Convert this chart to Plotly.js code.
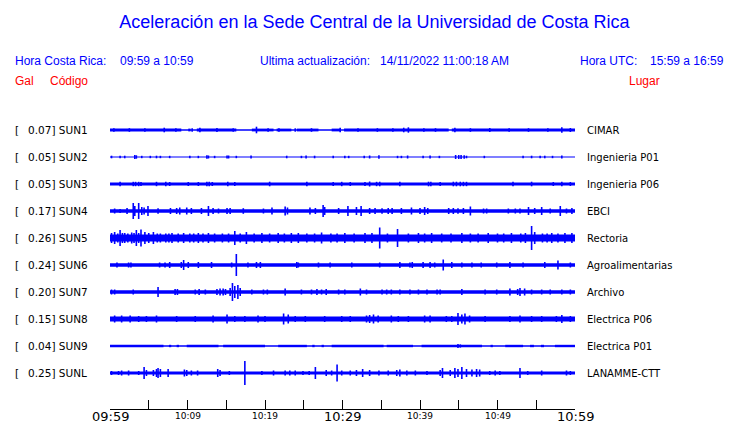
<!DOCTYPE html>
<html>
<head>
<meta charset="utf-8">
<script src="https://cdn.plot.ly/plotly-3.0.1.min.js"></script>
<style>html,body{margin:0;padding:0;background:#fff;}#chart{width:740px;height:423px;}</style>
</head>
<body>
<div id="chart"></div>
<script>
// ---------- data ----------
const stations = ['SUN1','SUN2','SUN3','SUN4','SUN5','SUN6','SUN7','SUN8','SUN9','SUNL'];
const galPeak  = ['0.07','0.05','0.05','0.17','0.26','0.24','0.20','0.15','0.04','0.25'];
const places   = ['CIMAR','Ingenieria P01','Ingenieria P06','EBCI','Rectoria','Agroalimentarias','Archivo','Electrica P06','Electrica P01','LANAMME-CTT'];
// continuous background level of each trace (half height of the band)
const baseLevel = [1.4, 0.6, 1.5, 1.8, 3.6, 1.7, 1.7, 2.5, 1.2, 1.4];

// quiet stretches where the band shrinks to a thin line: [from, to] minutes after 09:59
const sun1Quiet = [[9.2,10.1],[10.4,11.2],[16.3,18.3],[21.1,21.5],[23.4,24.1],[26.9,28.6],[29.8,30.2],[43.7,44.1]];
const sun9Quiet = [[6.9,7.6],[7.9,8.6],[8.9,9.9],[14.0,14.6],[20.0,21.7],[25.4,26.1],[26.4,27.3],[27.6,28.6],[35.3,35.7],[39.1,40.2],[48.0,49.1],[49.4,51.0],[53.3,54.2],[54.7,55.6],[56.0,57.4]];
const quietByStation = [sun1Quiet, [], [], [], [], [], [], [], sun9Quiet, []];

// bursts: [minutes after 09:59, half amplitude]
const sun1Bursts = [[0.5,1.8],[2.5,1.8],[4.5,1.8],[7.0,2.3],[8.5,1.8],[10.6,1.7],[11.6,2.3],[13.8,2.0],[15.9,1.7],[18.9,3.3],[20.4,1.7],[21.8,1.8],[23.9,1.7],[26.0,1.8],[29.7,2.3],[32.0,1.7],[34.5,1.8],[36.5,1.8],[37.9,2.3],[38.5,2.7],[40.5,1.8],[42.0,1.8],[44.5,2.3],[46.5,1.8],[49.0,2.0],[51.5,1.8],[54.0,1.8],[56.5,1.8],[58.3,2.7],[59.4,2.0]];
const sun2Bursts = [[0.2,1.3],[1.3,1.3],[1.9,1.3],[3.2,2.0],[3.4,1.7],[4.1,1.2],[5.2,1.2],[6.0,1.3],[6.5,1.2],[7.7,1.2],[10.3,1.2],[11.4,1.2],[12.5,1.7],[12.7,1.5],[13.5,1.2],[15.1,1.5],[15.3,1.5],[16.3,1.2],[18.2,1.5],[22.8,1.3],[24.7,1.2],[25.3,1.5],[26.4,1.3],[28.8,1.2],[30.3,1.2],[30.8,1.2],[32.8,1.3],[33.5,1.5],[34.7,1.7],[37.1,1.2],[37.6,1.2],[38.4,1.5],[40.4,1.2],[41.3,1.5],[42.5,1.2],[44.6,2.0],[45.0,2.0],[45.3,2.0],[45.7,1.7],[46.0,1.3],[48.3,1.2],[53.3,1.3],[54.4,1.3],[55.5,1.3],[56.1,1.3],[57.1,1.2],[58.3,1.5]];
const sun3Bursts = [[1.3,2.3],[3.0,2.2],[3.3,2.2],[3.7,2.2],[4.0,2.0],[6.0,2.2],[7.2,2.3],[7.7,2.0],[10.1,2.0],[11.4,2.0],[12.5,2.2],[12.8,2.2],[13.2,2.0],[15.2,2.2],[16.1,2.0],[20.6,2.3],[25.4,2.2],[28.8,2.0],[29.9,2.2],[31.0,2.0],[32.9,2.0],[33.5,2.5],[34.4,2.2],[34.8,2.3],[37.4,2.2],[41.1,2.3],[41.4,2.3],[42.6,2.0],[44.3,2.3],[44.7,2.3],[45.2,2.3],[45.6,2.2],[46.0,2.2],[52.0,2.2],[54.4,2.3],[57.2,2.0],[58.3,2.3],[59.4,2.0]];
const sun4Bursts = [[0.6,2.5],[1.3,2.0],[2.2,3.0],[3.0,8.0],[3.2,5.0],[3.7,8.0],[4.1,4.0],[4.4,3.5],[4.9,5.0],[6.2,2.8],[7.8,3.0],[8.6,3.0],[9.0,3.5],[9.9,3.5],[10.5,3.0],[11.8,3.0],[12.7,5.0],[13.3,3.0],[14.0,2.5],[15.1,3.0],[15.5,3.0],[17.2,2.8],[19.8,2.5],[20.9,3.5],[22.6,4.5],[22.9,3.5],[25.8,3.5],[26.5,3.0],[27.5,6.0],[27.7,4.0],[29.5,3.0],[30.7,5.0],[31.8,4.0],[32.4,5.0],[33.5,3.0],[34.2,3.0],[35.1,2.8],[35.9,3.0],[36.4,3.0],[37.6,3.0],[38.9,3.5],[40.0,3.0],[40.6,4.0],[41.0,3.0],[43.7,3.0],[44.3,3.0],[44.9,2.8],[45.6,3.0],[46.5,4.5],[48.2,2.5],[48.6,2.5],[51.4,2.5],[52.3,2.5],[52.9,2.5],[54.0,4.0],[54.8,3.0],[55.7,4.0],[56.8,2.5],[58.1,5.0],[58.9,2.5],[59.6,3.0]];
const sun5Bursts = [[0.2,5.0],[0.6,6.0],[1.0,4.5],[1.3,8.0],[1.6,5.0],[1.9,5.0],[2.3,4.5],[2.8,5.5],[3.1,5.0],[3.4,8.0],[3.7,5.0],[4.0,8.5],[4.5,6.0],[5.0,5.0],[5.6,6.0],[6.1,4.5],[6.5,4.5],[7.2,4.5],[7.6,4.5],[8.0,5.0],[8.8,4.5],[9.5,5.0],[10.3,4.5],[10.8,4.5],[11.4,5.0],[12.0,4.5],[12.7,5.0],[13.5,4.5],[14.5,4.5],[15.3,4.5],[16.1,7.0],[16.8,4.5],[17.6,6.0],[18.6,4.5],[19.6,5.0],[20.6,4.5],[21.7,5.0],[22.5,4.5],[23.4,5.0],[24.3,5.0],[25.4,4.5],[26.4,4.5],[27.3,5.5],[28.5,4.5],[29.3,4.5],[30.3,5.0],[31.5,4.5],[32.9,5.0],[33.8,5.0],[34.8,10.5],[35.8,4.5],[37.1,9.0],[38.5,4.5],[39.8,5.0],[40.6,4.5],[41.5,5.0],[42.8,4.5],[44.0,4.5],[45.4,5.0],[46.5,4.5],[47.5,4.5],[48.8,5.0],[50.0,4.5],[50.8,4.5],[51.8,5.0],[53.0,4.5],[53.6,5.0],[54.4,12.0],[54.8,6.0],[55.8,4.5],[56.4,4.5],[57.0,5.0],[57.8,4.5],[58.7,5.0],[59.6,5.0]];
const sun6Bursts = [[0.9,2.5],[2.4,2.5],[2.7,2.5],[6.4,2.5],[7.1,2.5],[7.7,3.0],[9.2,3.0],[9.5,5.0],[10.1,3.0],[11.4,3.0],[13.1,3.0],[15.7,2.5],[16.3,11.0],[17.8,2.5],[18.9,3.0],[19.4,3.0],[24.1,3.0],[24.3,2.5],[26.9,2.5],[28.4,2.5],[31.2,2.5],[34.8,2.5],[37.4,3.0],[38.7,2.5],[39.0,3.0],[40.4,3.0],[41.3,3.0],[41.9,2.5],[43.0,5.5],[44.1,3.0],[45.4,2.5],[46.7,2.5],[47.9,2.5],[49.9,2.5],[51.6,3.0],[53.3,2.5],[56.1,3.0],[57.8,4.5],[59.4,2.5]];
const sun7Bursts = [[0.2,2.5],[0.6,2.5],[3.0,2.5],[6.2,5.0],[8.4,3.0],[8.7,3.0],[11.0,2.5],[11.5,3.0],[12.3,2.5],[13.8,3.0],[14.2,3.5],[14.6,3.5],[14.9,3.0],[15.5,4.0],[15.8,9.0],[16.1,6.0],[16.5,7.0],[16.8,4.0],[18.3,2.5],[19.8,2.5],[20.3,2.5],[22.6,3.5],[24.7,2.5],[26.0,2.5],[26.7,3.0],[27.3,2.5],[27.9,3.0],[29.5,2.5],[30.3,2.5],[32.3,3.5],[33.1,2.5],[35.1,2.5],[35.7,2.5],[36.3,2.5],[37.4,2.5],[38.7,2.5],[39.8,2.5],[40.9,2.5],[42.2,2.5],[42.6,2.5],[45.4,3.0],[48.4,2.5],[49.9,2.5],[51.6,3.5],[52.6,3.0],[52.9,4.0],[53.5,3.5],[54.4,2.5],[55.7,2.5],[56.8,2.5],[58.3,2.5],[59.4,2.5]];
const sun8Bursts = [[0.6,3.5],[1.5,3.5],[2.6,3.5],[3.7,3.0],[4.7,3.0],[6.0,3.5],[8.6,3.0],[11.0,3.0],[13.3,3.5],[15.1,4.5],[16.1,3.0],[17.4,3.0],[19.1,3.5],[20.0,3.0],[22.4,5.5],[23.0,4.5],[23.9,3.0],[25.2,3.0],[27.7,3.0],[29.9,3.0],[31.0,3.0],[33.1,3.5],[33.5,4.0],[34.0,4.5],[34.6,3.5],[36.3,3.5],[37.2,3.0],[38.5,3.0],[40.6,3.5],[41.3,3.5],[43.4,3.0],[44.1,3.0],[44.9,6.0],[45.4,4.5],[45.8,5.5],[46.4,3.5],[48.4,3.0],[51.6,3.0],[52.9,3.5],[54.4,3.0],[55.7,3.0],[57.6,3.0],[58.3,4.0],[59.4,3.0]];
const sun9Bursts = [[44.9,2.0],[45.2,1.6]];
const sunLBursts = [[0.2,2.0],[1.1,2.0],[1.5,2.5],[2.4,2.5],[3.7,2.0],[4.4,6.0],[4.7,3.0],[5.6,3.0],[6.0,4.0],[6.2,5.0],[6.5,4.0],[7.5,4.0],[9.6,3.5],[9.9,3.0],[10.5,2.5],[11.3,2.5],[13.9,4.0],[14.2,3.0],[15.4,2.0],[17.4,12.0],[19.6,2.0],[21.1,2.5],[22.6,2.5],[23.2,2.5],[23.9,2.5],[24.9,2.0],[25.7,2.0],[26.5,6.0],[27.9,3.0],[28.6,2.5],[29.3,8.5],[29.9,2.5],[31.0,2.5],[31.8,3.0],[32.6,4.0],[33.5,3.0],[34.7,2.5],[35.9,2.5],[37.0,3.0],[37.4,3.5],[38.3,2.5],[39.4,2.5],[40.9,2.0],[42.6,3.0],[42.9,5.0],[43.9,3.0],[44.5,5.0],[44.9,4.0],[45.4,6.0],[46.0,4.0],[46.7,3.5],[47.3,4.0],[47.7,3.5],[49.0,2.0],[49.7,2.5],[50.3,2.0],[52.9,5.0],[53.9,2.0],[55.7,2.5],[58.9,2.5],[59.4,2.0]];
const burstsByStation = [sun1Bursts, sun2Bursts, sun3Bursts, sun4Bursts, sun5Bursts, sun6Bursts, sun7Bursts, sun8Bursts, sun9Bursts, sunLBursts];

const tickMinutes = [0,5,10,15,20,25,30,35,40,45,50,55,60];
const tickLabels  = ['09:59','','10:09','','10:19','','10:29','','10:39','','10:49','','10:59'];
const bigLabels   = ['09:59','10:29','10:59'];

// ---------- layout geometry (pixels) ----------
const W = 740, H = 423;
const plotL = 110, plotR = 575, plotT = 110, plotB = 409;
const firstRow = 130, rowGap = 27;
const BLUE = '#0000ff', RED = '#ff0000';
const PAD = 2; // annotation inner padding
const px2x = px => (px - plotL) / (plotR - plotL);
const py2y = py => (plotB - py) / (plotB - plotT);
const rowCenter = i => plotB - (firstRow + rowGap * i); // y units (1 unit = 1px)

const traces = [];
stations.forEach((s, i) => {
  const c = rowCenter(i);
  const quiet = quietByStation[i];
  if (quiet.length) {
    traces.push({type: 'scatter', mode: 'lines', x: [0, 60], y: [c, c],
      line: {color: BLUE, width: 1.4}, hoverinfo: 'skip', showlegend: false});
    const xs = [], ys = [];
    let start = 0;
    quiet.forEach(([a, b]) => { xs.push(start, a, null); ys.push(c, c, null); start = b; });
    xs.push(start, 60); ys.push(c, c);
    traces.push({type: 'scatter', mode: 'lines', x: xs, y: ys, connectgaps: false,
      line: {color: BLUE, width: baseLevel[i] * 2}, hoverinfo: 'skip', showlegend: false});
  } else {
    traces.push({type: 'scatter', mode: 'lines', x: [0, 60], y: [c, c],
      line: {color: BLUE, width: baseLevel[i] * 2}, hoverinfo: 'skip', showlegend: false});
  }
  const xs = [], ys = [];
  burstsByStation[i].forEach(([t, a]) => { xs.push(t, t, null); ys.push(c - a, c + a, null); });
  traces.push({type: 'scatter', mode: 'lines', x: xs, y: ys, connectgaps: false,
    line: {color: BLUE, width: 1.6}, hoverinfo: 'skip', showlegend: false});
});

const ann = [];
const hdr = (text, px, py, color, anchor) => ann.push({
  text, xref: 'paper', yref: 'paper',
  x: px2x(anchor === 'right' ? px + PAD : px - PAD), y: py2y(py),
  xanchor: anchor || 'left', yanchor: 'middle', showarrow: false,
  font: {family: 'Liberation Sans, Arial, sans-serif', size: 12, color}
});
hdr('Hora Costa Rica:', 15, 61, BLUE);
hdr('09:59 a 10:59', 120, 61, BLUE);
hdr('Ultima actualización:', 260, 61, BLUE);
hdr('14/11/2022 11:00:18 AM', 380, 61, BLUE);
hdr('Hora UTC:', 580, 61, BLUE);
hdr('15:59 a 16:59', 724, 61, BLUE, 'right');
hdr('Gal', 15, 81, RED);
hdr('Código', 50, 81, RED);
hdr('Lugar', 629, 81, RED);

const lbl = (text, px, py, size) => ann.push({text, xref: 'paper', yref: 'paper', x: px2x(px - PAD), y: py2y(py),
  xanchor: 'left', yanchor: 'middle', showarrow: false, font: {family: 'DejaVu Sans', size, color: '#000'}});
stations.forEach((s, i) => {
  const py = firstRow + rowGap * i;
  lbl('[', 15, py, 10.5);
  lbl(galPeak[i] + '] ' + s, 28, py, 10.5);
  lbl(places[i], 587, py, 10);
});

tickMinutes.forEach((m, k) => {
  const lab = tickLabels[k];
  if (!lab) return;
  const big = bigLabels.includes(lab);
  ann.push({text: lab, xref: 'x', yref: 'paper', x: m, y: py2y(416), xanchor: 'center', yanchor: 'middle',
    showarrow: false, font: {family: 'DejaVu Sans', size: big ? 13 : 9, color: '#000'}});
});

const layout = {
  width: W, height: H,
  margin: {l: plotL, r: W - plotR, t: plotT, b: H - plotB, pad: 0},
  paper_bgcolor: '#fff', plot_bgcolor: '#fff',
  title: {text: 'Aceleración en la Sede Central de la Universidad de Costa Rica',
    x: 374.5 / W, xref: 'container', xanchor: 'center', y: 1 - 22 / H, yref: 'container', yanchor: 'middle',
    font: {family: 'Liberation Sans, Arial, sans-serif', size: 18, color: BLUE}},
  xaxis: {range: [0, 60], showgrid: false, zeroline: false, showline: true, linecolor: '#000', linewidth: 1,
    ticks: 'inside', ticklen: 9, tickcolor: '#000', tickwidth: 1, tickvals: tickMinutes, showticklabels: false, fixedrange: true},
  yaxis: {range: [0, plotB - plotT], showgrid: false, zeroline: false, showline: false, showticklabels: false, ticks: '', fixedrange: true},
  annotations: ann,
  showlegend: false
};

Plotly.newPlot('chart', traces, layout, {staticPlot: true, displayModeBar: false});
</script>
</body>
</html>
